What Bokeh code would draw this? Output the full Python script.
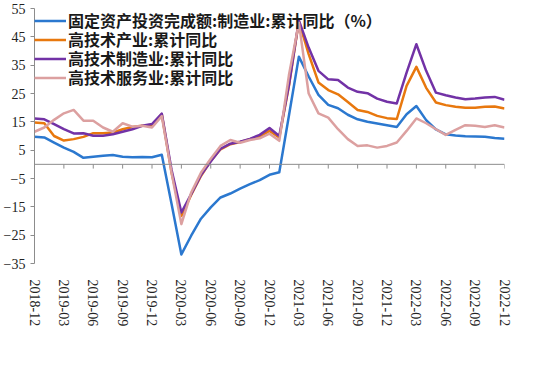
from bokeh.plotting import figure
from bokeh.models import Range1d, FixedTicker, Span, Legend, LegendItem, ColumnDataSource
from bokeh.embed import file_html
from bokeh.resources import INLINE
import pandas as pd

months = [d.strftime("%Y-%m") for d in pd.date_range("2018-12-01", "2022-12-01", freq="MS")]

tick_labels = ["2018-12", "2019-03", "2019-06", "2019-09", "2019-12", "2020-03", "2020-06",
               "2020-09", "2020-12", "2021-03", "2021-06", "2021-09", "2021-12", "2022-03",
               "2022-06", "2022-09", "2022-12"]

fai_mfg = [9.7, 9.5, 7.7, 5.9, 4.4, 2.3, 2.7, 3.0, 3.3, 2.7, 2.5, 2.6, 2.5, 3.4, -14.0,
           -31.8, -25.2, -19.2, -15.2, -11.7, -10.3, -8.6, -7.0, -5.6, -3.7, -2.8, 17.5,
           38.0, 31.0, 24.5, 21.0, 19.8, 17.5, 15.9, 15.0, 14.4, 13.8, 13.2, 17.7,
           20.6, 15.6, 12.3, 10.6, 10.2, 9.9, 9.8, 9.7, 9.3, 9.0]

hitech = [14.8, 14.5, 10.0, 8.4, 8.9, 9.7, 11.0, 11.0, 11.2, 12.4, 13.2, 13.6, 13.8, 17.7, -3.0,
          -18.2, -10.8, -4.1, 1.2, 5.3, 7.1, 7.9, 8.9, 9.8, 11.8, 9.5, 28.0,
          50.5, 38.9, 28.9, 26.2, 24.7, 22.0, 19.2, 18.5, 17.1, 16.3, 16.0, 27.7,
          34.4, 27.0, 21.8, 20.9, 20.3, 20.0, 20.0, 20.3, 20.4, 19.7]

hitech_mfg = [16.2, 15.9, 14.2, 12.4, 10.9, 11.0, 10.1, 10.1, 10.6, 11.5, 12.4, 13.6, 14.2, 17.9, -2.0,
              -17.0, -10.5, -3.8, 1.0, 5.5, 7.3, 8.0, 9.0, 10.4, 12.8, 10.0, 28.3,
              50.8, 41.2, 33.0, 30.0, 29.8, 27.1, 25.6, 25.1, 23.2, 22.1, 21.5, 32.4,
              42.4, 33.0, 25.3, 24.4, 23.6, 23.0, 23.2, 23.6, 23.8, 22.8]

hitech_svc = [11.5, 13.0, 15.7, 18.0, 19.2, 15.4, 15.4, 13.0, 11.5, 14.5, 13.3, 13.6, 13.0, 17.0, -3.0,
              -21.1, -10.0, -3.0, 2.0, 6.5, 8.6, 7.6, 8.6, 9.2, 10.8, 8.3, 31.8,
              50.0, 25.0, 18.0, 16.5, 12.4, 8.9, 6.5, 6.7, 5.9, 6.5, 7.7, 11.8,
              16.2, 14.5, 12.4, 10.4, 12.2, 13.8, 13.6, 13.2, 13.8, 13.0]

series_names = ["固定资产投资完成额:制造业:累计同比（%）", "高技术产业:累计同比",
                "高技术制造业:累计同比", "高技术服务业:累计同比"]
colors = ["#2B78CF", "#E8780E", "#7232A6", "#DCA0A0"]

x = list(range(len(months)))
src = ColumnDataSource(dict(x=x, a=fai_mfg, b=hitech, c=hitech_mfg, d=hitech_svc))

SERIF = "'Liberation Serif'"

p = figure(frame_width=470, frame_height=255, output_backend="svg", toolbar_location=None,
           x_range=Range1d(0, len(months) - 1), y_range=Range1d(-35, 55),
           min_border_left=0, min_border_top=8, min_border_right=20, min_border_bottom=20)
p.outline_line_color = None
p.grid.visible = False
p.background_fill_color = "white"

# y axis
p.yaxis.ticker = FixedTicker(ticks=list(range(-35, 56, 10)))
p.yaxis.axis_line_color = "#8c8c8c"
p.yaxis.major_tick_line_color = "#8c8c8c"
p.yaxis.major_tick_out = 4
p.yaxis.major_tick_in = 0
p.yaxis.minor_tick_line_color = None
p.yaxis.major_label_standoff = 5
p.yaxis.major_label_text_font = SERIF
p.yaxis.major_label_text_font_size = "14px"
p.yaxis.major_label_text_color = "#222222"

# x axis (labels only, at bottom)
tick_pos = [months.index(t) for t in tick_labels]
p.xaxis.ticker = FixedTicker(ticks=tick_pos)
p.xaxis.major_label_overrides = {pos: lab for pos, lab in zip(tick_pos, tick_labels)}
p.xaxis.axis_line_color = None
p.xaxis.major_tick_line_color = None
p.xaxis.minor_tick_line_color = None
p.xaxis.major_label_orientation = "vertical"
p.xaxis.major_label_standoff = 10
p.xaxis.major_label_text_font = SERIF
p.xaxis.major_label_text_font_size = "14px"
p.xaxis.major_label_text_color = "#222222"

# zero line with ticks
p.add_layout(Span(location=0, dimension="width", line_color="#8c8c8c", line_width=1))
p.segment(x0=tick_pos, y0=[0] * len(tick_pos), x1=tick_pos, y1=[-1.5] * len(tick_pos),
          line_color="#8c8c8c", line_width=1)

renderers = []
for key, col in zip(["a", "b", "c", "d"], colors):
    r = p.line("x", key, source=src, line_color=col, line_width=2.5, line_join="round")
    renderers.append(r)

# one single-row legend per series, so rows can sit 19px apart
row_bottoms = [231, 212, 193, 174]
for name, r, yb in zip(series_names, renderers, row_bottoms):
    lg = Legend(items=[LegendItem(label=name, renderers=[r])], location=(0, yb))
    lg.background_fill_alpha = 0
    lg.border_line_color = None
    lg.padding = 0
    lg.margin = 0
    lg.spacing = 0
    lg.glyph_width = 32
    lg.glyph_height = 19
    lg.label_height = 19
    lg.label_standoff = 2
    lg.label_text_font = "Noto Sans CJK SC"
    lg.label_text_font_size = "16px"
    lg.label_text_font_style = "bold"
    lg.label_text_color = "#1a1a1a"
    p.add_layout(lg, "center")

open("out.html", "w").write(file_html(p, INLINE))
